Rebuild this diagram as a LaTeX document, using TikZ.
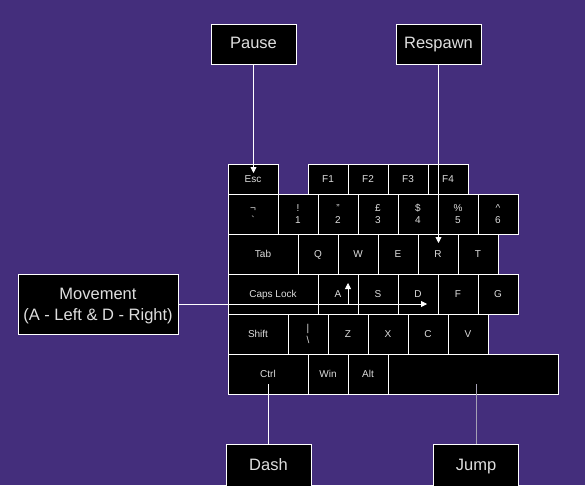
\documentclass[tikz,border=0pt]{standalone}
\usepackage{fontspec}
\setmainfont{Liberation Sans}
\usetikzlibrary{arrows.meta}
\definecolor{bgpurple}{RGB}{68,46,124}
\definecolor{keytext}{RGB}{222,222,222}
\definecolor{jumpline}{RGB}{165,160,180}
\begin{document}
\begin{tikzpicture}[x=1pt,y=-1pt,>={Triangle[length=6pt,width=6pt]},
		key/.style={draw=white,fill=black,line width=0.8pt,inner sep=0pt,minimum width=40pt,minimum height=40pt,text=keytext,font=\fontsize{10}{12}\selectfont,text height=7.2pt,text depth=0pt,align=center},
		twoline/.style={text height=19.2pt},
		lbl/.style={draw=white,fill=black,line width=0.8pt,inner sep=0pt,minimum width=85pt,minimum height=40pt,text=keytext,font=\fontsize{16.5}{21}\selectfont,text height=11.9pt,text depth=1.9pt,align=center},
		link/.style={draw=white,line width=0.8pt}]
				\fill[bgpurple] (0,0) rectangle (585,485);
				% row 0
				\node[key,minimum width=50pt,minimum height=30pt] (esc) at (253,179) {Esc};
				\node[key,minimum height=30pt] (f1) at (328,179) {F1};
				\node[key,minimum height=30pt] (f2) at (368,179) {F2};
				\node[key,minimum height=30pt] (f3) at (408,179) {F3};
				\node[key,minimum height=30pt] (f4) at (448,179) {F4};
				% row 1
				\node[key,twoline,minimum width=50pt] (grave) at (253,214) {¬\\\textasciigrave};
				\node[key,twoline] (one) at (298,214) {!\\1};
				\node[key,twoline] (two) at (338,214) {"\\2};
				\node[key,twoline] (three) at (378,214) {£\\3};
				\node[key,twoline] (four) at (418,214) {\$\\4};
				\node[key,twoline] (five) at (458,214) {\%\\5};
				\node[key,twoline] (six) at (498,214) {\textasciicircum\\6};
				% row 2
				\node[key,minimum width=70pt] (tab) at (263,254) {Tab};
				\node[key] (q) at (318,254) {Q};
				\node[key] (w) at (358,254) {W};
				\node[key] (e) at (398,254) {E};
				\node[key] (r) at (438,254) {R};
				\node[key] (t) at (478,254) {T};
				% row 3
				\node[key,minimum width=90pt] (caps) at (273,294) {Caps Lock};
				\node[key] (a) at (338,294) {A};
				\node[key] (s) at (378,294) {S};
				\node[key] (d) at (418,294) {D};
				\node[key] (f) at (458,294) {F};
				\node[key] (g) at (498,294) {G};
				% row 4
				\node[key,minimum width=60pt] (shift) at (258,334) {Shift};
				\node[key,twoline] (bar) at (308,334) {\textbar\\\textbackslash};
				\node[key] (z) at (348,334) {Z};
				\node[key] (x) at (388,334) {X};
				\node[key] (c) at (428,334) {C};
				\node[key] (v) at (468,334) {V};
				% row 5
				\node[key,minimum width=80pt] (ctrl) at (268,374) {Ctrl};
				\node[key] (win) at (328,374) {Win};
				\node[key] (alt) at (368,374) {Alt};
				\node[key,minimum width=170pt] (space) at (473,374) {};
				% labels
				\node[lbl] (pause) at (253.5,44) {Pause};
				\node[lbl] (respawn) at (438.5,44) {Respawn};
				\node[lbl,minimum width=160pt,minimum height=60pt,text height=33pt,text depth=0pt] (move) at (98,304) {Movement\\(A - Left \& D - Right)};
				\node[lbl,minimum height=42pt] (dash) at (268.5,465) {Dash};
				\node[lbl,minimum height=42pt] (jump) at (476,465) {Jump};
				% ends of connectors
				\coordinate (escTip) at (253.5,173);
				\coordinate (rTip) at (438.5,243);
				\coordinate (dTip) at (427,304);
				\coordinate (aBase) at (348,304);
				\coordinate (aTip) at (348,283);
				\coordinate (ctrlEnd) at (268.5,384);
				\coordinate (spaceEnd) at (476,384);
				% connectors
				\draw[link,->] (pause.south)--(escTip);
				\draw[link,->] (respawn.south)--(rTip);
				\draw[link,->] (move.east)--(dTip);
				\draw[link,->] (aBase)--(aTip);
				\draw[link] (ctrlEnd)--(dash.north);
				\draw[link,draw=jumpline] (spaceEnd)--(jump.north);
		\end{tikzpicture}
\end{document}
